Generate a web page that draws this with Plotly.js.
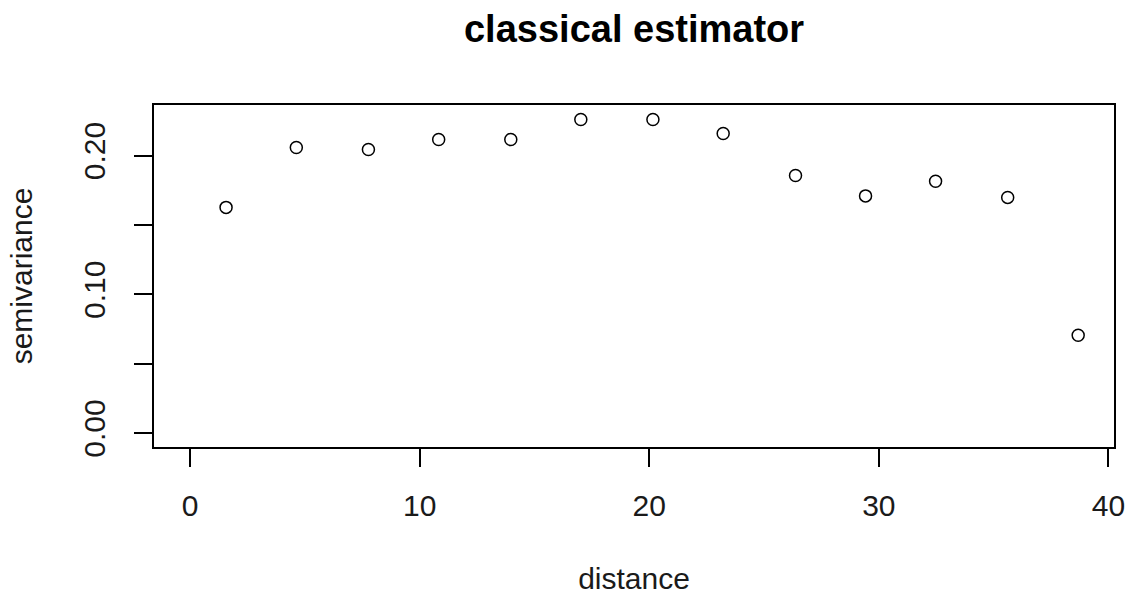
<!DOCTYPE html>
<html>
<head>
<meta charset="utf-8">
<script src="https://cdn.plot.ly/plotly-3.0.1.min.js"></script>
<style>
  html, body { margin: 0; padding: 0; background: #ffffff; }
  #chart { width: 1132px; height: 599px; }
</style>
</head>
<body>
<div id="chart"></div>
<script>
// Empirical variogram (classical estimator)
const distance = [1.57, 4.63, 7.77, 10.83, 13.97, 17.02, 20.16, 23.22, 26.37, 29.42, 32.47, 35.61, 38.68];
const semivariance = [0.1626, 0.2058, 0.2043, 0.2115, 0.2115, 0.2259, 0.2259, 0.2158, 0.1856, 0.1709, 0.1815, 0.1698, 0.0705];

const xTickVals = [0, 10, 20, 30, 40];
const xTickText = ['0', '10', '20', '30', '40'];
const yTickVals = [0, 0.05, 0.10, 0.15, 0.20];
const yTickText = ['0.00', '', '0.10', '', '0.20'];

const FONT = 'Liberation Sans, Arial, Helvetica, sans-serif';

const trace = {
  x: distance,
  y: semivariance,
  type: 'scatter',
  mode: 'markers',
  marker: {
    symbol: 'circle-open',
    size: 12,
    color: '#000000',
    line: { color: '#000000', width: 1.5 }
  },
  hoverinfo: 'x+y',
  showlegend: false
};

const layout = {
  width: 1132,
  height: 599,
  paper_bgcolor: '#ffffff',
  plot_bgcolor: '#ffffff',
  margin: { l: 154, r: 18, t: 105, b: 152, pad: 0 },
  font: { family: FONT, size: 30, color: '#000000' },
  title: {
    text: '<b>classical estimator</b>',
    font: { family: FONT, size: 38, color: '#000000' },
    x: 0.5601, xref: 'container', xanchor: 'center',
    y: 0.952, yref: 'container', yanchor: 'middle'
  },
  xaxis: {
    range: [-1.568, 40.24],
    tickmode: 'array',
    tickvals: xTickVals,
    ticktext: xTickText,
    ticks: 'outside',
    ticklen: 18,
    tickwidth: 1.5,
    tickcolor: '#000000',
    showline: true,
    linecolor: '#000000',
    linewidth: 1.5,
    mirror: true,
    showgrid: false,
    zeroline: false,
    tickfont: { family: FONT, size: 30, color: '#1a1a1a' },
    ticklabelstandoff: 13,
    title: { text: 'distance', font: { family: FONT, size: 30, color: '#1a1a1a' }, standoff: 47 },
    automargin: false
  },
  yaxis: {
    range: [-0.0101, 0.2364],
    tickmode: 'array',
    tickvals: yTickVals,
    ticktext: yTickText,
    ticks: 'outside',
    ticklen: 18,
    tickwidth: 1.5,
    tickcolor: '#000000',
    tickangle: -90,
    showline: true,
    linecolor: '#000000',
    linewidth: 1.5,
    mirror: true,
    showgrid: false,
    zeroline: false,
    tickfont: { family: FONT, size: 30, color: '#1a1a1a' },
    ticklabelstandoff: 17,
    title: { text: 'semivariance', font: { family: FONT, size: 30, color: '#1a1a1a' }, standoff: 37 },
    automargin: false
  }
};

Plotly.newPlot('chart', [trace], layout, { displayModeBar: false, staticPlot: false, responsive: false });
</script>
</body>
</html>
